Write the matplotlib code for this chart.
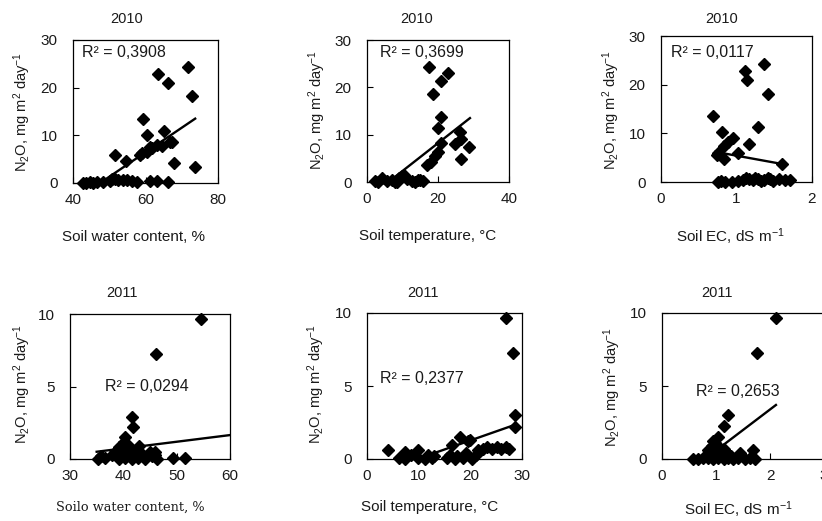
import matplotlib
matplotlib.use("Agg")
import matplotlib.pyplot as plt

W, H = 822, 521

plt.rcParams['font.family'] = ['Liberation Sans', 'DejaVu Sans']
plt.rcParams['mathtext.fontset'] = 'custom'
plt.rcParams['mathtext.rm'] = 'Liberation Sans'
plt.rcParams['mathtext.it'] = 'Liberation Sans:italic'

# 2010 data
swc10 = [71.6, 63.5, 66.3, 72.7, 59.2, 65.1, 60.5, 67.2, 63.1, 64.5, 61.7, 60.4, 58.5, 51.6, 54.6,
         67.9, 73.7, 59.0, 61.2, 66.8, 42.8, 44.7, 46.5, 48.4, 50.2, 51.6, 53.9, 56.2, 57.6, 61.2,
         63.1, 66.3, 43.5, 45.5, 50.8, 52.5, 55.0]
n2o_swc10 = [24.4, 22.9, 21.0, 18.3, 13.4, 11.0, 10.1, 8.7, 8.0, 7.8, 7.3, 6.6, 5.9, 5.9, 4.6,
             4.3, 3.3, 6.2, 7.5, 8.5, 0.1, 0.2, 0.3, 0.2, 0.5, 0.8, 0.6, 0.4, 0.3, 0.5,
             0.4, 0.3, 0.0, 0.1, 0.9, 0.7, 0.6]

temp10 = [17.5, 22.9, 20.8, 18.5, 20.8, 20.1, 26.2, 20.8, 26.5, 24.8, 28.7, 19.9, 19.2, 18.0, 16.8,
          26.5, 2.3, 4.1, 5.5, 7.0, 8.4, 9.8, 11.2, 12.6, 14.5, 15.9, 3.0, 8.0, 9.0, 10.5, 13.5, 15.0]
n2o_temp10 = [24.4, 23.1, 21.4, 18.5, 13.7, 11.5, 10.6, 8.2, 9.0, 8.0, 7.5, 6.4, 5.4, 4.3, 3.6,
              4.8, 0.3, 0.9, 0.2, 0.5, 0.1, 1.2, 0.6, 0.3, 0.4, 0.2, 0.0, 0.0, 0.8, 1.5, 0.0, 0.5]

ec10 = [1.37, 1.11, 1.14, 1.42, 0.69, 1.28, 0.81, 0.96, 0.89, 1.16, 0.83, 0.76, 1.02, 0.74, 0.83,
        1.60, 0.76, 0.85, 0.94, 1.02, 1.09, 1.16, 1.22, 1.29, 1.36, 1.42, 1.49, 1.56, 1.64, 1.71,
        0.80, 1.12, 1.25, 1.32, 1.45]
n2o_ec10 = [24.2, 22.8, 21.0, 18.1, 13.6, 11.2, 10.2, 9.0, 8.3, 7.9, 7.3, 6.0, 6.0, 5.6, 4.7,
            3.7, 0.0, 0.1, 0.0, 0.3, 0.5, 0.6, 0.4, 0.7, 0.5, 0.8, 0.3, 0.6, 0.4, 0.5,
            0.2, 0.8, 0.9, 0.2, 0.6]

# 2011 data
swc11 = [54.6, 46.1, 41.6, 41.9, 40.3, 40.2, 35.3, 36.6, 37.8, 39.1, 40.3, 41.6, 42.8, 44.1, 45.3,
         46.3, 49.4, 51.6, 35.8, 38.4, 39.1, 39.7, 40.8, 41.3, 42.2, 43.0, 43.7, 45.0, 45.9, 38.8,
         40.0, 41.0, 42.5, 46.0]
n2o_swc11 = [9.63, 7.24, 2.9, 2.2, 1.5, 1.2, 0.0, 0.05, 0.3, 0.0, 0.1, 0.0, 0.1, 0.0, 0.2,
             0.0, 0.05, 0.05, 0.2, 0.5, 0.8, 0.6, 1.0, 0.7, 0.4, 0.9, 0.3, 0.5, 0.3, 0.2,
             1.0, 0.4, 0.6, 0.5]

temp11 = [26.9, 28.2, 28.6, 28.6, 18.0, 19.9, 16.4, 4.1, 19.6, 21.5, 22.4, 23.3, 24.2, 25.1, 26.0,
          26.9, 27.5, 6.1, 7.4, 9.9, 11.2, 12.5, 15.4, 17.0, 18.6, 20.3, 7.4, 9.9, 6.8, 8.5,
          11.8, 13.0, 16.0, 17.5, 19.2, 21.0]
n2o_temp11 = [9.63, 7.28, 3.0, 2.2, 1.5, 1.3, 0.96, 0.6, 1.2, 0.6, 0.7, 0.8, 0.7, 0.8, 0.7,
              0.8, 0.7, 0.05, 0.0, 0.05, 0.0, 0.1, 0.05, 0.0, 0.1, 0.0, 0.5, 0.6, 0.2, 0.3,
              0.3, 0.2, 0.3, 0.2, 0.4, 0.3]

ec11 = [2.11, 1.75, 1.23, 1.14, 1.03, 0.94, 1.69, 0.58, 0.67, 0.76, 0.86, 0.95, 1.04, 1.14, 1.23,
        1.32, 1.41, 1.54, 1.63, 1.72, 0.85, 0.92, 0.98, 1.05, 1.10, 1.15, 1.20, 0.90, 1.00, 1.08,
        1.27, 1.45]
n2o_ec11 = [9.63, 7.28, 3.0, 2.26, 1.5, 1.2, 0.6, 0.0, 0.0, 0.05, 0.1, 0.0, 0.05, 0.0, 0.1,
            0.0, 0.05, 0.0, 0.1, 0.0, 0.6, 0.9, 1.1, 0.8, 0.5, 0.7, 0.4, 0.3, 0.4, 0.3,
            0.2, 0.4]

# linear trend lines (endpoints)
trend_x = [[43, 73.7], [2.3, 29], [0.72, 1.64], [35, 60], [4.1, 28.7], [0.58, 2.11]]
trend_y = [[-2.3, 13.5], [-2.2, 13.5], [6.2, 3.6], [0.5, 1.65], [-0.7, 2.35], [-0.6, 3.7]]
r2_labels = ['R² = 0,3908', 'R² = 0,3699', 'R² = 0,0117', 'R² = 0,0294', 'R² = 0,2377', 'R² = 0,2653']
years = ['2010', '2010', '2010', '2011', '2011', '2011']
xlabels = ['Soil water content, %', 'Soil temperature, °C', r'Soil EC, dS m$^{-1}$',
           'Soilo water content, %', 'Soil temperature, °C', r'Soil EC, dS m$^{-1}$']
ylabel = r'N$_2$O, mg m$^2$ day$^{-1}$'

xs = [swc10, temp10, ec10, swc11, temp11, ec11]
ys = [n2o_swc10, n2o_temp10, n2o_ec10, n2o_swc11, n2o_temp11, n2o_ec11]
xlims = [(40, 80), (0, 40), (0, 2), (30, 60), (0, 30), (0, 3)]
xticks = [[40, 60, 80], [0, 20, 40], [0, 1, 2], [30, 40, 50, 60], [0, 10, 20, 30], [0, 1, 2, 3]]
ylims = [(0, 30)] * 3 + [(0, 10)] * 3
yticks = [[0, 10, 20, 30]] * 3 + [[0, 5, 10]] * 3

# layout in pixels: left, right, top, bottom of each plot box
boxes = [(73, 218, 40, 183), (367, 509, 40, 182), (661, 812, 36, 182),
         (70, 230, 314, 459), (367, 522, 313, 459), (662, 824, 313, 459)]
title_pos = [(127, 19), (417, 19), (722, 19), (122, 293), (423, 293), (717, 293)]
xlabel_pos = [(133, 237), (428, 236), (730, 237), (130, 507), (430, 507), (738, 510)]
ylabel_pos = [(22, 112), (317, 110), (611, 110), (22, 384), (316, 384), (612, 387)]
r2_pos = [(0.06, 0.91), (0.09, 0.91), (0.066, 0.89), (0.22, 0.50), (0.084, 0.55), (0.21, 0.46)]

fig = plt.figure(figsize=(W / 100, H / 100), dpi=100)
fig.patch.set_facecolor('white')
txt = '#1a1a1a'

for i in range(6):
    l, r, t, b = boxes[i]
    ax = fig.add_axes([l / W, (H - b) / H, (r - l) / W, (b - t) / H])
    ax.plot(trend_x[i], trend_y[i], color='black', lw=1.7, zorder=2)
    ax.plot(xs[i], ys[i], 'D', color='black', ms=6.2, clip_on=False, zorder=3)
    ax.set_xlim(*xlims[i])
    ax.set_ylim(*ylims[i])
    ax.set_xticks(xticks[i])
    ax.set_yticks(yticks[i])
    ax.tick_params(axis='both', direction='in', length=4, width=0.8, labelsize=11,
                   colors='black', labelcolor=txt)
    ax.tick_params(axis='y', pad=11)
    ax.tick_params(axis='x', pad=7)
    for s in ax.spines.values():
        s.set_linewidth(0.9)
        s.set_color('black')
    ax.text(r2_pos[i][0], r2_pos[i][1], r2_labels[i], transform=ax.transAxes,
            fontsize=11.5, va='center', ha='left', color=txt)
    fig.text(title_pos[i][0] / W, 1 - title_pos[i][1] / H, years[i],
             fontsize=10.5, ha='center', va='center', color=txt)
    if i == 3:
        fig.text(xlabel_pos[i][0] / W, 1 - xlabel_pos[i][1] / H, xlabels[i],
                 fontsize=9.3, ha='center', va='center', family=['DejaVu Serif'], color=txt)
    else:
        fig.text(xlabel_pos[i][0] / W, 1 - xlabel_pos[i][1] / H, xlabels[i],
                 fontsize=11, ha='center', va='center', color=txt)
    fig.text(ylabel_pos[i][0] / W, 1 - ylabel_pos[i][1] / H, ylabel,
             fontsize=10.5, ha='center', va='center', rotation=90, color=txt)

fig.savefig('out.png', dpi=100)
